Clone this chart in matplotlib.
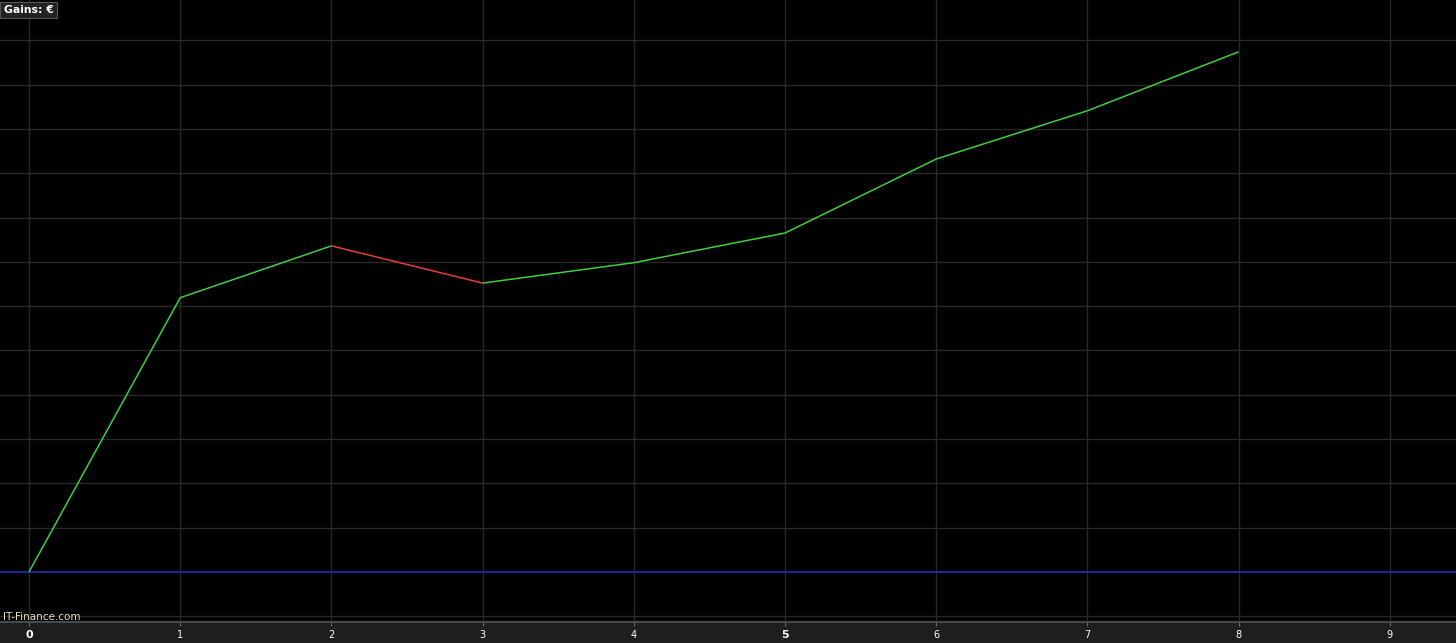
import matplotlib
matplotlib.use("Agg")
import matplotlib.pyplot as plt
import numpy as np

trades = [0, 1, 2, 3, 4, 5, 6, 7, 8]
gains = [0.0, 6.19, 7.36, 6.52, 6.98, 7.65, 9.32, 10.41, 11.74]
xticks = [0, 1, 2, 3, 4, 5, 6, 7, 8, 9]
xtick_labels = ["0", "1", "2", "3", "4", "5", "6", "7", "8", "9"]

W, H = 1456, 643
fig = plt.figure(figsize=(W / 100, H / 100), dpi=100)
fig.patch.set_facecolor("#1e1e1e")
bottom_px = 21
ax = fig.add_axes([0, bottom_px / H, 1, (H - bottom_px) / H])
ax.set_facecolor("black")

# grid
for yv in range(-1, 13):
    ax.axhline(yv, color="#282828", lw=1, zorder=1)
for xv in xticks:
    ax.axvline(xv, color="#282828", lw=1, zorder=1)

# zero line
ax.axhline(0, color="#2323a8", lw=1.3, zorder=2)

# segments
for i in range(len(trades) - 1):
    c = "#3ecf3e" if gains[i + 1] >= gains[i] else "#e83a3a"
    ax.plot(trades[i:i + 2], gains[i:i + 2], color=c, lw=1.1, zorder=3,
            solid_capstyle="butt")

ax.set_xlim(-0.192, 9.438)
ax.set_ylim(-1.13, 12.91)
ax.set_yticks([])
ax.set_xticks(xticks)
ax.set_xticklabels(xtick_labels)
for lbl in ax.get_xticklabels():
    lbl.set_color("white")
    lbl.set_fontsize(7)
    if lbl.get_text() in ("0", "5"):
        lbl.set_fontweight("bold")
        lbl.set_fontsize(8)
ax.tick_params(axis="x", direction="out", length=3, color="#6a6a6a", pad=2.5)
for s in ["left", "right", "top"]:
    ax.spines[s].set_visible(False)
ax.spines["bottom"].set_color("#4a4a4a")
ax.spines["bottom"].set_linewidth(1.5)

ax.text(0.0025, 0.992, "Gains: €", transform=ax.transAxes, color="white",
        fontsize=7.8, fontweight="bold", va="top", ha="left",
        bbox=dict(boxstyle="square,pad=0.3", fc="#222222", ec="#555555", lw=0.8))
ax.text(0.002, 0.0, "IT-Finance.com", transform=ax.transAxes,
        color="#e8dcc0", fontsize=7.5, va="bottom", ha="left")

fig.savefig("out.png", dpi=100, facecolor=fig.get_facecolor())
